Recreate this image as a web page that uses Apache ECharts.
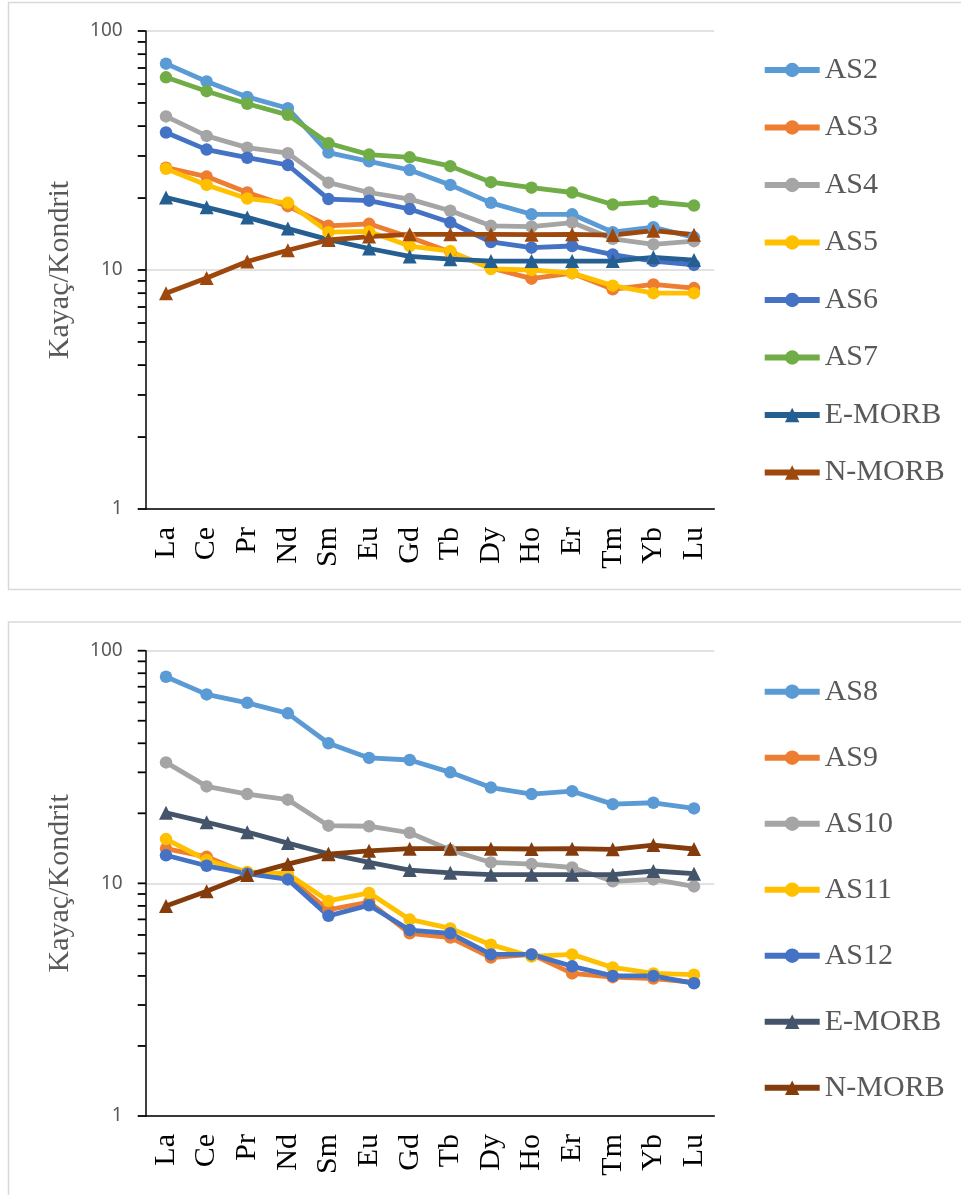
<!DOCTYPE html>
<html>
<head>
<meta charset="utf-8">
<script src="https://cdn.jsdelivr.net/npm/echarts@6/dist/echarts.min.js"></script>
<style>
html,body{margin:0;padding:0;background:#fff;}
#c1{position:absolute;left:0;top:0;width:961px;height:610px;}
#c2{position:absolute;left:0;top:610px;width:961px;height:585px;}
</style>
</head>
<body>
<div id="c1"></div>
<div id="c2"></div>
<script>
// ---- data ----
const elements = ['La','Ce','Pr','Nd','Sm','Eu','Gd','Tb','Dy','Ho','Er','Tm','Yb','Lu'];
const yTickMajor = [1, 10, 100];
const yTickMinor = [2,3,4,5,6,7,8,9,20,30,40,50,60,70,80,90];

const AS2 = [73, 61.5, 53, 47.5, 31, 28.5, 26.2, 22.7, 19.1, 17.1, 17.1, 14.4, 15.1, 13.7];
const AS3 = [26.8, 24.6, 21.1, 18.5, 15.3, 15.6, 13.7, 11.9, 10.2, 9.2, 9.7, 8.3, 8.7, 8.4];
const AS4 = [43.9, 36.4, 32.5, 30.8, 23.2, 21.1, 19.8, 17.7, 15.3, 15.2, 15.8, 13.5, 12.8, 13.2];
const AS5 = [26.5, 22.7, 19.9, 19.1, 14.4, 14.5, 12.6, 12.0, 10.1, 10.0, 9.7, 8.6, 8.0, 8.0];
const AS6 = [37.6, 31.9, 29.5, 27.5, 19.8, 19.5, 18.0, 15.8, 13.1, 12.4, 12.6, 11.6, 10.9, 10.5];
const AS7 = [64, 56, 49.6, 44.6, 33.9, 30.4, 29.6, 27.2, 23.3, 22.1, 21.1, 18.8, 19.3, 18.6];

const AS8  = [77.3, 64.9, 59.7, 53.8, 40.0, 34.6, 33.9, 30.0, 25.8, 24.2, 24.9, 21.9, 22.2, 21.0];
const AS9  = [14.1, 13.0, 11.0, 10.6, 7.7, 8.3, 6.1, 5.85, 4.8, 4.95, 4.1, 3.95, 3.9, 3.75];
const AS10 = [33.1, 26.1, 24.2, 22.9, 17.7, 17.6, 16.5, 13.9, 12.3, 12.1, 11.7, 10.2, 10.4, 9.7];
const AS11 = [15.5, 12.6, 11.2, 11.0, 8.4, 9.1, 7.0, 6.4, 5.45, 4.85, 4.95, 4.35, 4.1, 4.05];
const AS12 = [13.2, 11.9, 11.0, 10.4, 7.25, 8.05, 6.3, 6.1, 4.95, 4.95, 4.4, 4.0, 4.0, 3.72];

const EMORB = [20.1, 18.3, 16.6, 14.9, 13.4, 12.3, 11.4, 11.1, 10.9, 10.9, 10.9, 10.9, 11.3, 11.0];
const NMORB = [8.0, 9.25, 10.85, 12.1, 13.35, 13.8, 14.1, 14.1, 14.1, 14.05, 14.1, 14.0, 14.6, 14.05];

const topNames = ['AS2','AS3','AS4','AS5','AS6','AS7','E-MORB','N-MORB'];
const topValues = [AS2, AS3, AS4, AS5, AS6, AS7, EMORB, NMORB];
const topColors = ['#5B9BD5','#ED7D31','#A5A5A5','#FFC000','#4472C4','#70AD47','#255E91','#9E480E'];

const botNames = ['AS8','AS9','AS10','AS11','AS12','E-MORB','N-MORB'];
const botValues = [AS8, AS9, AS10, AS11, AS12, EMORB, NMORB];
const botColors = ['#5B9BD5','#ED7D31','#A5A5A5','#FFC000','#4472C4','#44546A','#843C0C'];

const SERIF = 'Liberation Serif';
const SANS = 'Noto Sans';
const GRID_LEFT = 145.7;
const TICK_LEN = 8;

function makeOption(cfg) {
  const series = cfg.names.map((n, i) => {
    const tri = n.indexOf('MORB') >= 0;
    return {
      name: n,
      type: 'line',
      data: cfg.values[i],
      symbol: tri ? 'triangle' : 'circle',
      symbolSize: tri ? 14 : 12.5,
      showSymbol: true,
      lineStyle: { width: 4.8, color: cfg.colors[i] },
      itemStyle: { color: cfg.colors[i] },
      emphasis: { disabled: true }
    };
  });
  return {
    animation: false,
    backgroundColor: '#fff',
    grid: { left: GRID_LEFT, top: cfg.gridTop, width: 568.6, height: cfg.gridH, containLabel: false },
    legend: {
      orient: 'vertical',
      left: 756.7,
      top: cfg.legendTop,
      itemWidth: 55,
      itemHeight: 18,
      itemGap: cfg.legendGap,
      data: cfg.names,
      selectedMode: false,
      lineStyle: { width: 6 },
      textStyle: { fontFamily: SERIF, fontSize: 30, color: '#595959', lineHeight: 30 }
    },
    xAxis: {
      type: 'category',
      data: elements,
      boundaryGap: true,
      axisLine: { onZero: false, lineStyle: { color: '#000', width: 1.5 } },
      axisTick: { show: false },
      axisLabel: { rotate: 90, margin: 18, fontFamily: SERIF, fontSize: 30, color: '#000', interval: 0 }
    },
    yAxis: {
      type: 'log',
      logBase: 10,
      min: 1,
      max: 100,
      position: 'left',
      axisLine: { show: true, lineStyle: { color: '#000', width: 1.5 } },
      axisTick: { show: false },
      axisLabel: { margin: 23, fontFamily: SANS, fontSize: 19, color: '#595959' },
      splitLine: { show: true, lineStyle: { color: '#D9D9D9', width: 1.5 } },
      name: 'Kayaç/Kondrit',
      nameLocation: 'middle',
      nameGap: 71,
      nameTextStyle: { fontFamily: SERIF, fontSize: 30, color: '#595959' }
    },
    series: series
  };
}

function addDecor(chart, cfg) {
  const g = [];
  yTickMajor.concat(yTickMinor).forEach((v, k) => {
    const y = chart.convertToPixel({ yAxisIndex: 0 }, v);
    g.push({
      type: 'rect',
      id: 'tick' + k,
      shape: { x: GRID_LEFT - TICK_LEN, y: y - 0.9, width: TICK_LEN, height: 1.8 },
      style: { fill: '#000' },
      zlevel: 5,
      z: 100
    });
  });
  g.push({
    type: 'rect',
    id: 'frame',
    shape: { x: 8.5, y: cfg.frameTop, width: 980, height: cfg.frameH },
    style: { fill: 'none', stroke: '#D9D9D9', lineWidth: 1.5 }
  });
  chart.setOption({ graphic: { elements: g } });
}

const cfg1 = {
  names: topNames, values: topValues, colors: topColors,
  gridTop: 31, gridH: 478, legendTop: 50, legendGap: 27.5,
  frameTop: 2.5, frameH: 587
};
const cfg2 = {
  names: botNames, values: botValues, colors: botColors,
  gridTop: 40.7, gridH: 465.3, legendTop: 61.7, legendGap: 36,
  frameTop: 12, frameH: 700
};

const c1 = echarts.init(document.getElementById('c1'));
c1.setOption(makeOption(cfg1));
addDecor(c1, cfg1);

const c2 = echarts.init(document.getElementById('c2'));
c2.setOption(makeOption(cfg2));
addDecor(c2, cfg2);
</script>
</body>
</html>
